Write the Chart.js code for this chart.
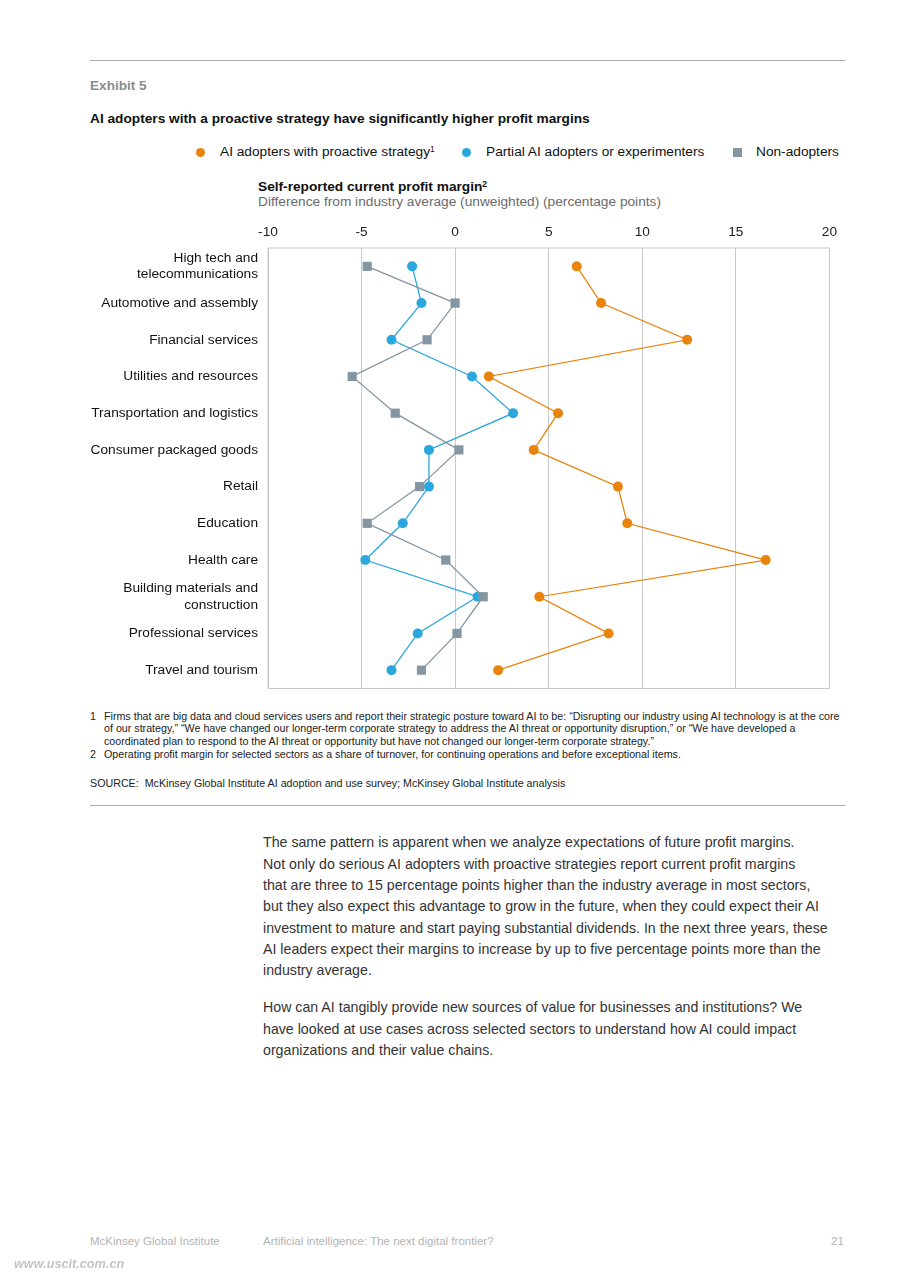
<!DOCTYPE html>
<html>
<head>
<meta charset="utf-8">
<script src="https://cdn.jsdelivr.net/npm/chart.js@4/dist/chart.umd.min.js"></script>
<style>
  html, body { margin: 0; padding: 0; background: #fff; }
  body { width: 905px; height: 1280px; position: relative; font-family: "Liberation Sans", Arial, sans-serif; color: #111; overflow: hidden; }
  .abs { position: absolute; white-space: nowrap; }
  .rule { position: absolute; left: 90px; width: 755px; height: 0; border-top: 1.5px solid #a9a9a9; }
  sup { font-size: 0.62em; vertical-align: 0; position: relative; top: -0.45em; }
  .dot { position: absolute; width: 9px; height: 9px; border-radius: 50%; }
  .sq { position: absolute; width: 9px; height: 9px; }
  .legend { font-size: 13.7px; line-height: 16px; top: 144px; }
  .fn { font-size: 10.7px; line-height: 12.6px; color: #222; }
  .body { font-size: 14.2px; line-height: 21.3px; color: #333; left: 263px; }
  .foot { font-size: 11.5px; line-height: 14px; color: #b3b3b3; top: 1234px; }
  #wrap { position: absolute; left: 85px; top: 220px; width: 760px; height: 475px; }
</style>
</head>
<body>
<div class="rule" style="top:60px"></div>
<div class="abs" style="left:90px;top:78px;font-size:13.6px;line-height:16px;font-weight:bold;color:#8c8c8c">Exhibit 5</div>
<div class="abs" style="left:90px;top:111px;font-size:13.7px;line-height:16px;font-weight:bold">AI adopters with a proactive strategy have significantly higher profit margins</div>

<div class="dot" style="left:195.5px;top:147.5px;background:#E8840E"></div>
<div class="abs legend" style="left:220px">AI adopters with proactive strategy<sup>1</sup></div>
<div class="dot" style="left:461.5px;top:147.5px;background:#2AA7DC"></div>
<div class="abs legend" style="left:486px">Partial AI adopters or experimenters</div>
<div class="sq" style="left:732.5px;top:147.5px;background:#8496A2"></div>
<div class="abs legend" style="left:756px">Non-adopters</div>

<div class="abs" style="left:258px;top:179px;font-size:13.7px;line-height:16px;font-weight:bold">Self-reported current profit margin<sup>2</sup></div>
<div class="abs" style="left:258px;top:194px;font-size:13.7px;line-height:16px;color:#6b6b6b">Difference from industry average (unweighted) (percentage points)</div>

<div id="wrap"><canvas id="marginChart"></canvas></div>

<div class="abs fn" style="left:90px;top:709.7px">1</div>
<div class="abs fn" style="left:104px;top:709.7px">Firms that are big data and cloud services users and report their strategic posture toward AI to be: “Disrupting our industry using AI technology is at the core<br>of our strategy,” “We have changed our longer-term corporate strategy to address the AI threat or opportunity disruption,” or “We have developed a<br>coordinated plan to respond to the AI threat or opportunity but have not changed our longer-term corporate strategy.”</div>
<div class="abs fn" style="left:90px;top:747.5px">2</div>
<div class="abs fn" style="left:104px;top:747.5px">Operating profit margin for selected sectors as a share of turnover, for continuing operations and before exceptional items.</div>
<div class="abs fn" style="left:90px;top:776.7px">SOURCE:&nbsp; McKinsey Global Institute AI adoption and use survey; McKinsey Global Institute analysis</div>
<div class="rule" style="top:805px"></div>

<div class="abs body" style="top:832.4px">The same pattern is apparent when we analyze expectations of future profit margins.<br>Not only do serious AI adopters with proactive strategies report current profit margins<br>that are three to 15 percentage points higher than the industry average in most sectors,<br>but they also expect this advantage to grow in the future, when they could expect their AI<br>investment to mature and start paying substantial dividends. In the next three years, these<br>AI leaders expect their margins to increase by up to five percentage points more than the<br>industry average.</div>
<div class="abs body" style="top:997.4px">How can AI tangibly provide new sources of value for businesses and institutions? We<br>have looked at use cases across selected sectors to understand how AI could impact<br>organizations and their value chains.</div>

<div class="abs foot" style="left:90px">McKinsey Global Institute</div>
<div class="abs foot" style="left:263px">Artificial intelligence: The next digital frontier?</div>
<div class="abs foot" style="left:831px">21</div>
<div class="abs" style="left:14px;top:1257px;font-size:12.7px;line-height:15px;font-weight:bold;font-style:italic;color:#c4c4c4;filter:blur(0.5px)">www.uscit.com.cn</div>

<script>
const sectors = [
  ["High tech and", "telecommunications"],
  "Automotive and assembly",
  "Financial services",
  "Utilities and resources",
  "Transportation and logistics",
  "Consumer packaged goods",
  "Retail",
  "Education",
  "Health care",
  ["Building materials and", "construction"],
  "Professional services",
  "Travel and tourism",
];

// difference from industry average, percentage points
const proactive = [6.5, 7.8, 12.4, 1.8, 5.5, 4.2, 8.7, 9.2, 16.6, 4.5, 8.2, 2.3];
const partial = [-2.3, -1.8, -3.4, 0.9, 3.1, -1.4, -1.4, -2.8, -4.8, 1.2, -2.0, -3.4];
const nonAdopters = [-4.7, 0.0, -1.5, -5.5, -3.2, 0.2, -1.9, -4.7, -0.5, 1.5, 0.1, -1.8];

const xMin = -10;
const xMax = 20;
const xStep = 5;

const ORANGE = "#E8840E";
const BLUE = "#2AA7DC";
const GRAY = "#8496A2";

const plotBox = {
  id: "plotBox",
  beforeDatasetsDraw(chart) {
    const { ctx, chartArea: a } = chart;
    ctx.save();
    ctx.strokeStyle = "#c9c9c9";
    ctx.lineWidth = 1;
    ctx.strokeRect(a.left, a.top, a.right - a.left, a.bottom - a.top);
    ctx.restore();
  },
};

function series(label, data, color, style, radius, order) {
  return {
    label,
    data,
    borderColor: color,
    backgroundColor: color,
    pointBackgroundColor: color,
    pointBorderColor: color,
    pointBorderWidth: 0,
    pointStyle: style,
    pointRadius: radius,
    borderWidth: 1.3,
    tension: 0,
    clip: false,
    order,
  };
}

new Chart(document.getElementById("marginChart"), {
  type: "line",
  data: {
    labels: sectors,
    datasets: [
      series("AI adopters with proactive strategy", proactive, ORANGE, "circle", 5, 2),
      series("Partial AI adopters or experimenters", partial, BLUE, "circle", 5, 1),
      series("Non-adopters", nonAdopters, GRAY, "rect", 6.5, 0),
    ],
  },
  options: {
    indexAxis: "y",
    responsive: true,
    maintainAspectRatio: false,
    animation: false,
    layout: { padding: { left: 0, right: 14, top: 0, bottom: 2 } },
    plugins: {
      legend: { display: false },
      tooltip: { enabled: false },
    },
    scales: {
      x: {
        type: "linear",
        position: "top",
        min: xMin,
        max: xMax,
        ticks: {
          stepSize: xStep,
          color: "#222",
          padding: 8,
          font: { family: "Liberation Sans", size: 13.7 },
        },
        grid: { color: "#c9c9c9", lineWidth: 1, drawTicks: false },
        border: { display: false },
        afterFit(scale) { scale.height = 28; },
      },
      y: {
        type: "category",
        offset: true,
        grid: { display: false, drawTicks: false },
        border: { display: false },
        ticks: {
          color: "#111",
          padding: 10,
          autoSkip: false,
          font: { family: "Liberation Sans", size: 13.7, lineHeight: 1.2 },
        },
        afterFit(scale) {
          scale.width = 183;
          scale.paddingTop = 0;
          scale.paddingBottom = 0;
        },
      },
    },
  },
  plugins: [plotBox],
});
</script>
</body>
</html>
